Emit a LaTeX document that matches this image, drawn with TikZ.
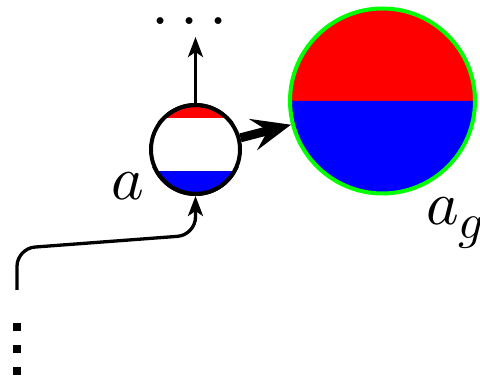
\documentclass[tikz,border=0pt]{standalone}
\usepackage{graphicx}
\usetikzlibrary{arrows.meta,calc}
\begin{document}
\begin{tikzpicture}[x=1pt,y=1pt,
  lbl/.style={inner sep=0pt},
  thinarrow/.style={line width=3.3pt, -{Stealth[length=20pt,width=15pt,inset=5pt]}},
  thickarrow/.style={line width=9pt, -{Stealth[length=39pt,width=32pt,inset=15pt]}},
  sq/.style={fill=black}
]
\useasboundingbox (0,0) rectangle (480,377);
% nodes
\node[circle, minimum size=89pt, inner sep=0pt, line width=4pt] (a) at (195.5,227.5) {};
\node[circle, minimum size=185pt, inner sep=0pt, line width=4pt] (ag) at (382.5,276) {};
\node[lbl, anchor=base] (dots) at (189.5,352.6) {\scalebox{6.5}{$\ldots$}};
\node[lbl, anchor=base west] (la) at (111,177.5) {\scalebox{6.2}{$a$}};
\node[lbl, anchor=base west] (lag) at (426,152.5) {\scalebox{6.2}{$a$\raisebox{-2.25pt}{\scalebox{0.8}{$g$}}}};
\coordinate (up) at (195.5,340);
\coordinate (start) at (17,87);
\coordinate (k1) at (17,128.6);
\coordinate (k2) at (195.5,142);
% big circle
\fill[red] (ag.center) ++(0:92.5) arc[start angle=0,end angle=180,radius=92.5] -- cycle;
\fill[blue] (ag.center) ++(180:92.5) arc[start angle=180,end angle=360,radius=92.5] -- cycle;
\draw[green, line width=4pt] (ag.center) circle[radius=92.5];
% small circle
\draw[fill=red, line width=4pt, line join=miter] (a.center) ++(41:44.5) arc[start angle=41,end angle=139,radius=44.5] -- cycle;
\draw[fill=blue, line width=4pt, line join=miter] (a.center) ++(206:44.5) arc[start angle=206,end angle=334,radius=44.5] -- cycle;
\begin{scope}
\clip (a.center) circle[radius=44.5];
\fill[white] ($(a.center)+(-46,-21.5)$) rectangle ($(a.center)+(46,31.2)$);
\end{scope}
\draw[line width=4pt] (a.center) circle[radius=44.5];
% connectors
\draw[thickarrow] (a) -- (ag);
\draw[thinarrow] (a.north) -- (up);
\draw[thinarrow, rounded corners=18pt] (start) -- (k1) -- (k2) -- (a.south);
% vertical dots
\fill[sq] (12.5,46) rectangle (20.5,54);
\fill[sq] (12.5,24.3) rectangle (20.5,32.3);
\fill[sq] (12.5,2.3) rectangle (20.5,10.3);
\end{tikzpicture}
\end{document}
